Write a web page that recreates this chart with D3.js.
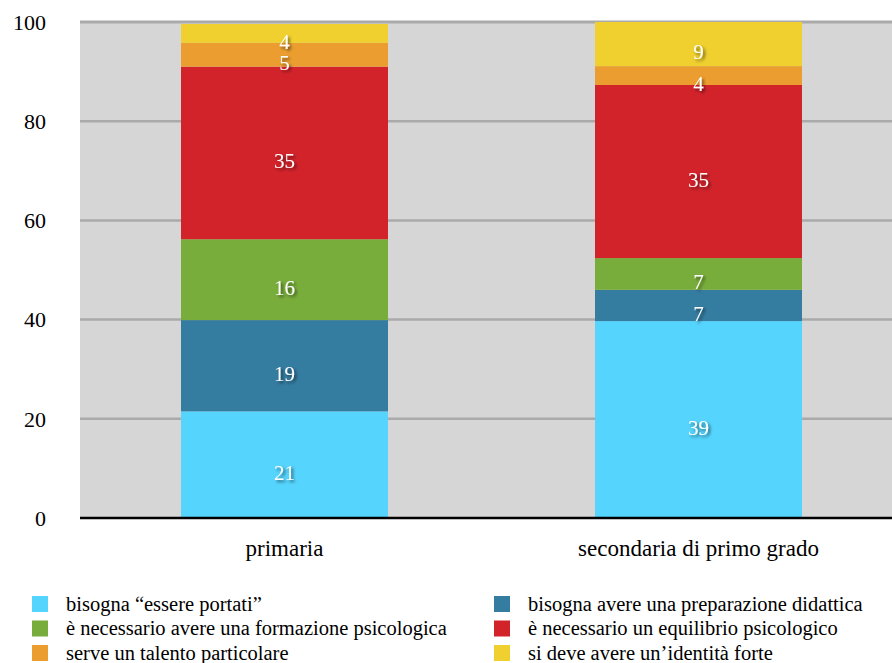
<!DOCTYPE html>
<html lang="it">
<head>
<meta charset="utf-8">
<title>Stacked bars</title>
<script src="https://cdn.jsdelivr.net/npm/d3@7"></script>
<style>
  body { margin: 0; background: #fff; }
  svg text { font-family: "Liberation Serif", "Times New Roman", serif; }
</style>
</head>
<body>
<div id="chart"></div>
<script>
// data
var categories = ["primaria", "secondaria di primo grado"];
var seriesNames = [
  "bisogna \u201cessere portati\u201d",
  "bisogna avere una preparazione didattica",
  "è necessario avere una formazione psicologica",
  "è necessario un equilibrio psicologico",
  "serve un talento particolare",
  "si deve avere un\u2019identità forte"
];
var seriesColors = ["#55d4fd", "#357ca1", "#79ad3b", "#d2232b", "#eb9e2f", "#f0d02f"];
// values per category, one array per series
var primaria = [21.5, 18.4, 16.3, 34.8, 4.8, 3.8];
var secondaria = [39.7, 6.3, 6.4, 34.9, 3.8, 8.9];
var primariaLabels = ["21", "19", "16", "35", "5", "4"];
var secondariaLabels = ["39", "7", "7", "35", "4", "9"];
var yTicks = [0, 20, 40, 60, 80, 100];

var W = 892, H = 663;
var plot = {left: 80, right: 892, top: 22, bottom: 518};

var svg = d3.select("#chart").append("svg")
    .attr("width", W).attr("height", H);

var defs = svg.append("defs");
var f = defs.append("filter").attr("id", "shadow")
    .attr("x", "-50%").attr("y", "-50%").attr("width", "200%").attr("height", "200%");
f.append("feDropShadow").attr("dx", 2).attr("dy", 2).attr("stdDeviation", 1.5)
    .attr("flood-color", "#000").attr("flood-opacity", 0.55);

var x = d3.scaleBand()
    .domain(categories)
    .range([77.5, 905.5])
    .paddingInner(0.5)
    .paddingOuter(0.25);

var y = d3.scaleLinear()
    .domain([0, 100])
    .range([plot.bottom, plot.top]);

// background
svg.append("rect")
   .attr("x", plot.left).attr("y", plot.top)
   .attr("width", plot.right - plot.left).attr("height", plot.bottom - plot.top)
   .attr("fill", "#d6d6d6");

// gridlines
svg.append("g").selectAll("line")
   .data(yTicks.filter(function(d) { return d > 0; }))
   .enter().append("line")
   .attr("x1", plot.left).attr("x2", plot.right)
   .attr("y1", function(d) { return y(d); })
   .attr("y2", function(d) { return y(d); })
   .attr("stroke", "#aaaaaa")
   .attr("stroke-width", function(d) { return d == 100 ? 3 : 2.5; });

// y tick labels
svg.append("g").selectAll("text")
   .data(yTicks)
   .enter().append("text")
   .attr("x", 46)
   .attr("y", function(d) { return y(d); })
   .attr("dy", "0.35em")
   .attr("text-anchor", "end")
   .attr("font-size", 22)
   .attr("fill", "#000")
   .text(function(d) { return d; });

// stacked bars
var table = categories.map(function(c, i) {
  var vals = i == 0 ? primaria : secondaria;
  var labs = i == 0 ? primariaLabels : secondariaLabels;
  var row = {cat: c, labels: labs};
  seriesNames.forEach(function(s, j) { row[j] = vals[j]; });
  return row;
});
var stack = d3.stack().keys(d3.range(seriesNames.length));
var layers = stack(table);

var g = svg.append("g");
layers.forEach(function(layer, j) {
  g.selectAll(".bar" + j)
   .data(layer)
   .enter().append("rect")
   .attr("x", function(d) { return x(d.data.cat); })
   .attr("width", x.bandwidth())
   .attr("y", function(d) { return y(d[1]); })
   .attr("height", function(d) { return y(d[0]) - y(d[1]); })
   .attr("fill", seriesColors[j]);
});

layers.forEach(function(layer, j) {
  g.selectAll(".lab" + j)
   .data(layer)
   .enter().append("text")
   .attr("x", function(d) { return x(d.data.cat) + x.bandwidth() / 2; })
   .attr("y", function(d) { return (y(d[0]) + y(d[1])) / 2 + 8; })
   .attr("dy", "0.35em")
   .attr("text-anchor", "middle")
   .attr("font-size", 21)
   .attr("fill", "#fff")
   .attr("filter", "url(#shadow)")
   .text(function(d) { return d.data.labels[j]; });
});

// zero axis line
svg.append("line")
   .attr("x1", plot.left).attr("x2", plot.right)
   .attr("y1", y(0)).attr("y2", y(0))
   .attr("stroke", "#000").attr("stroke-width", 2.5);

// x labels
svg.append("g").selectAll("text")
   .data(categories)
   .enter().append("text")
   .attr("x", function(d) { return x(d) + x.bandwidth() / 2; })
   .attr("y", 556)
   .attr("text-anchor", "middle")
   .attr("font-size", 23)
   .text(function(d) { return d; });

// legend
var legend = svg.append("g").selectAll("g")
   .data(seriesNames)
   .enter().append("g")
   .attr("transform", function(d, i) {
     return "translate(" + (i % 2 == 0 ? 32 : 494) + "," + (604 + Math.floor(i / 2) * 24.5) + ")";
   });
legend.append("rect")
   .attr("x", 0).attr("y", -8)
   .attr("width", 16).attr("height", 16)
   .attr("fill", function(d, i) { return seriesColors[i]; });
legend.append("text")
   .attr("x", 34).attr("y", 0)
   .attr("dy", "0.33em")
   .attr("font-size", 20.5)
   .text(function(d) { return d; });
</script>
</body>
</html>
